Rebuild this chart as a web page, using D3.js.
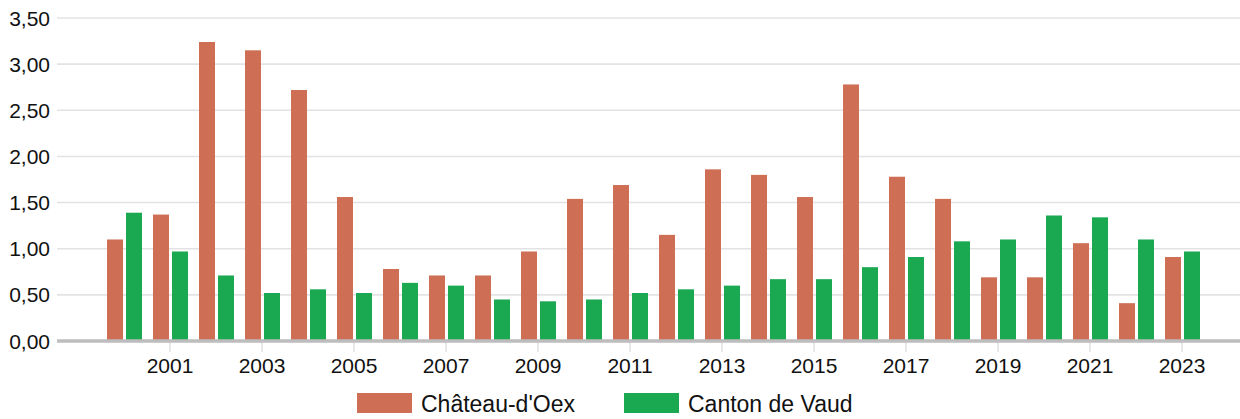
<!DOCTYPE html>
<html>
<head>
<meta charset="utf-8">
<script src="https://cdn.jsdelivr.net/npm/d3@7"></script>
<style>
html, body { margin: 0; padding: 0; background: #fff; }
svg { display: block; font-family: "Liberation Sans", Arial, sans-serif; }
</style>
</head>
<body>
<svg id="chart" width="1240" height="419"></svg>
<script>
const years = [2000,2001,2002,2003,2004,2005,2006,2007,2008,2009,2010,2011,2012,2013,2014,2015,2016,2017,2018,2019,2020,2021,2022,2023];
const chateau = [1.10,1.37,3.24,3.15,2.72,1.56,0.78,0.71,0.71,0.97,1.54,1.69,1.15,1.86,1.80,1.56,2.78,1.78,1.54,0.69,0.69,1.06,0.41,0.91];
const vaud = [1.39,0.97,0.71,0.52,0.56,0.52,0.63,0.60,0.45,0.43,0.45,0.52,0.56,0.60,0.67,0.67,0.80,0.91,1.08,1.10,1.36,1.34,1.10,0.97];
const yTicks = [0,0.5,1,1.5,2,2.5,3,3.5];
const xTickYears = [2001,2003,2005,2007,2009,2011,2013,2015,2017,2019,2021,2023];
const seriesNames = ["Château-d'Oex", "Canton de Vaud"];
const seriesColors = ["#cd6e55", "#1aa851"];

const svg = d3.select("#chart");
const x = d3.scaleLinear().domain([2000, 2023]).range([124, 1182]);
const y = d3.scaleLinear().domain([0, 3.5]).range([341, 18]);
const left = 57, right = 1240;
const fmt = v => d3.format(".2f")(v).replace(".", ",");

// gridlines
svg.append("g").selectAll("line").data(yTicks.filter(t => t > 0)).join("line")
  .attr("x1", left).attr("x2", right)
  .attr("y1", d => y(d)).attr("y2", d => y(d))
  .attr("stroke", "#e3e3e3").attr("stroke-width", 1.6);

// y labels
svg.append("g").selectAll("text").data(yTicks).join("text")
  .attr("x", 50).attr("y", d => y(d)).attr("dy", "0.36em")
  .attr("text-anchor", "end").attr("font-size", 21).attr("fill", "#111")
  .text(fmt);

// x ticks
svg.append("g").selectAll("line").data(xTickYears).join("line")
  .attr("x1", d => x(d)).attr("x2", d => x(d))
  .attr("y1", 341).attr("y2", 352)
  .attr("stroke", "#e3e3e3").attr("stroke-width", 1.6);

svg.append("g").selectAll("text").data(xTickYears).join("text")
  .attr("x", d => x(d)).attr("y", 373)
  .attr("text-anchor", "middle").attr("font-size", 21).attr("fill", "#111")
  .text(d => d);

// bars
const bw = 16;
svg.append("g").selectAll("rect").data(years.map((yr, i) => ({yr, v: chateau[i]}))).join("rect")
  .attr("x", d => x(d.yr) - 17).attr("width", bw)
  .attr("y", d => y(d.v)).attr("height", d => y(0) - y(d.v))
  .attr("fill", seriesColors[0]);
svg.append("g").selectAll("rect").data(years.map((yr, i) => ({yr, v: vaud[i]}))).join("rect")
  .attr("x", d => x(d.yr) + 2).attr("width", bw)
  .attr("y", d => y(d.v)).attr("height", d => y(0) - y(d.v))
  .attr("fill", seriesColors[1]);

// baseline
svg.append("line").attr("x1", left).attr("x2", right)
  .attr("y1", y(0)).attr("y2", y(0))
  .attr("stroke", "#bdbdbd").attr("stroke-width", 3.5);

// legend
const legendX = [357, 624];
const lg = svg.append("g").selectAll("g").data(seriesNames).join("g")
  .attr("transform", (d, i) => `translate(${legendX[i]},393)`);
lg.append("rect").attr("width", 55).attr("height", 20).attr("fill", (d, i) => seriesColors[i]);
lg.append("text").attr("x", 64).attr("y", 19).attr("font-size", 23).attr("fill", "#111").text(d => d);
</script>
</body>
</html>
